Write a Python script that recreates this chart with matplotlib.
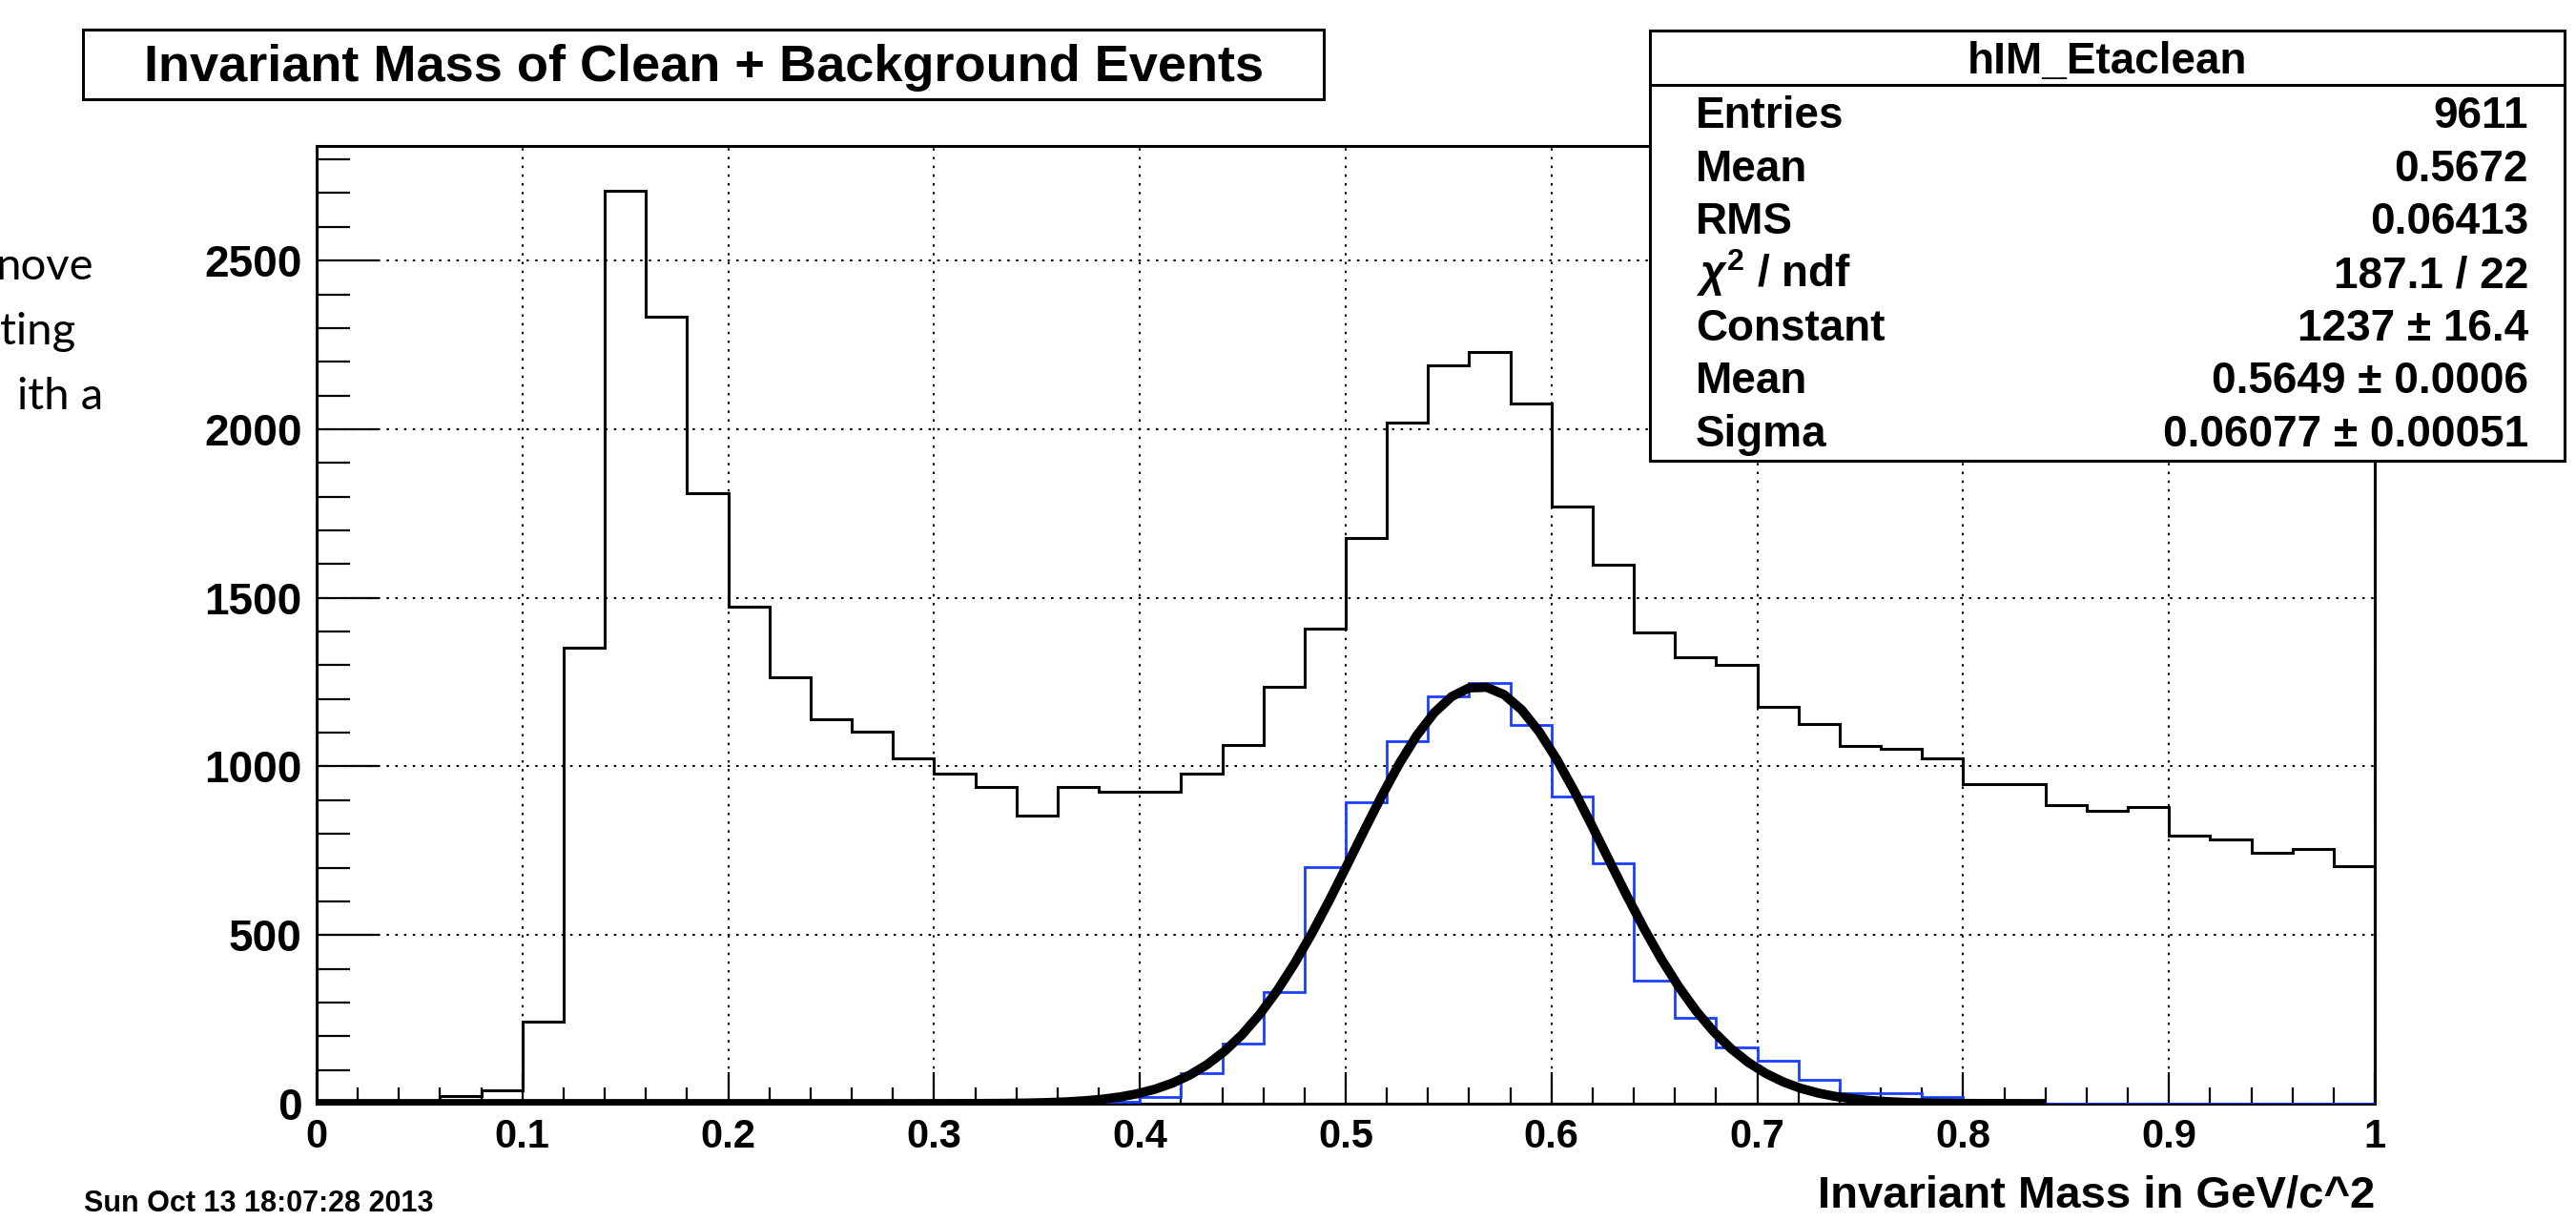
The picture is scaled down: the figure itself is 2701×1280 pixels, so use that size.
import matplotlib
matplotlib.use("Agg")
import matplotlib.pyplot as plt
from matplotlib.patches import Rectangle
import numpy as np

# Canvas size in pixels (dpi 100)
W, H = 2701, 1280

# Histogram binning: 50 bins of 0.02 GeV/c^2 between 0 and 1
bin_edges = np.linspace(0.0, 1.0, 51)

# Clean + background events (black histogram)
counts_all = [0, 0, 3, 22, 40, 242, 1352, 2708, 2334, 1809,
              1473, 1264, 1141, 1103, 1025, 978, 940, 854, 940, 924,
              924, 978, 1065, 1236, 1409, 1676, 2019, 2190, 2228, 2075,
              1771, 1598, 1398, 1323, 1300, 1176, 1127, 1061, 1051, 1023,
              947, 947, 886, 869, 880, 794, 784, 743, 755, 705]

# Clean eta events (blue histogram, hIM_Etaclean)
counts_clean = [0, 0, 0, 0, 0, 0, 0, 0, 0, 0,
                0, 0, 0, 0, 0, 0, 0, 0, 0, 5,
                20, 91, 177, 330, 702, 893, 1075, 1209, 1248, 1123,
                912, 712, 366, 254, 167, 128, 72, 31, 31, 19,
                0, 0, 0, 0, 0, 0, 0, 0, 0, 0]

# Gaussian fit parameters from the stats box
fit_constant = 1237
fit_mean = 0.5649
fit_sigma = 0.06077
fit_range = (0.0, 0.84)

stats_title = "hIM_Etaclean"
stats_labels = ["Entries", "Mean", "RMS", r"$\chi^{2}$ / ndf", "Constant", "Mean", "Sigma"]
stats_values = ["9611", "0.5672", "0.06413", "187.1 / 22", "1237 \u00b1 16.4",
                "0.5649 \u00b1 0.0006", "0.06077 \u00b1 0.00051"]

x_ticks = [0, 0.1, 0.2, 0.3, 0.4, 0.5, 0.6, 0.7, 0.8, 0.9, 1]
x_tick_labels = ["0", "0.1", "0.2", "0.3", "0.4", "0.5", "0.6", "0.7", "0.8", "0.9", "1"]
y_ticks = [0, 500, 1000, 1500, 2000, 2500]

plt.rcParams['font.family'] = ['Liberation Sans', 'DejaVu Sans']
plt.rcParams['font.weight'] = 'bold'
plt.rcParams['mathtext.fontset'] = 'custom'
plt.rcParams['mathtext.rm'] = 'Liberation Sans:bold'
plt.rcParams['mathtext.it'] = 'Liberation Sans:italic'
plt.rcParams['mathtext.bf'] = 'Liberation Sans:bold'


def fx(px):
    return px / W


def fy(py):
    return 1 - py / H


fig = plt.figure(figsize=(W / 100, H / 100), dpi=100)
fig.patch.set_facecolor('white')

# plot frame: x from 332 to 2490 px, y from 153 to 1157 px
ax = fig.add_axes([fx(332), fy(1157), fx(2490) - fx(332), fy(153) - fy(1157)])

ax.stairs(counts_all, bin_edges, color='black', linewidth=2.2, zorder=3)
ax.stairs(counts_clean, bin_edges, color='#1a40ff', linewidth=2.0, zorder=4)

xf = np.linspace(fit_range[0], fit_range[1], 100)
yf = fit_constant * np.exp(-0.5 * ((xf - fit_mean) / fit_sigma) ** 2)
ax.plot(xf, yf, color='black', linewidth=7, zorder=5, solid_capstyle='butt')

ax.set_xlim(0, 1)
ax.set_ylim(0, 2840)
ax.set_xticks(x_ticks)
ax.set_xticklabels(x_tick_labels)
ax.set_xticks(np.arange(0, 1.0001, 0.02), minor=True)
ax.set_yticks(y_ticks)
ax.set_yticklabels([str(v) for v in y_ticks])
ax.set_yticks(np.arange(0, 2801, 100), minor=True)

ax.tick_params(axis='x', which='major', direction='in', length=24, width=1.6,
               labelsize=30, pad=11, top=False)
ax.tick_params(axis='x', which='minor', direction='in', length=12, width=1.6, top=False)
ax.tick_params(axis='y', which='major', direction='in', length=47, width=1.6,
               labelsize=33, pad=11, right=False)
ax.tick_params(axis='y', which='minor', direction='in', length=25, width=1.6, right=False)

ax.grid(True, which='major', color='black', linestyle=(0, (1.2, 3.2)), linewidth=1.5)
ax.set_axisbelow(True)
for sp in ax.spines.values():
    sp.set_linewidth(2.2)
    sp.set_color('black')

# title box
fig.add_artist(Rectangle((fx(87), fy(104)), fx(1388) - fx(87), fy(31) - fy(104),
                         transform=fig.transFigure, facecolor='white',
                         edgecolor='black', linewidth=2.2, zorder=6))
fig.text(fx(738), fy(85), "Invariant Mass of Clean + Background Events",
         ha='center', va='baseline', fontsize=39, fontweight='bold', zorder=7)

# stats box
fig.add_artist(Rectangle((fx(1730), fy(483)), fx(2689) - fx(1730), fy(32) - fy(483),
                         transform=fig.transFigure, facecolor='white',
                         edgecolor='black', linewidth=2.2, zorder=6))
fig.add_artist(plt.Line2D([fx(1730), fx(2689)], [fy(89), fy(89)],
                          transform=fig.transFigure, color='black',
                          linewidth=2.2, zorder=7))
fig.text(fx(2210), fy(77), stats_title, ha='center', va='baseline',
         fontsize=33, fontweight='bold', zorder=8)
row_y = 134
for label, value in zip(stats_labels, stats_values):
    fig.text(fx(1778), fy(row_y), label, ha='left', va='baseline',
             fontsize=33, fontweight='bold', zorder=8)
    fig.text(fx(2651), fy(row_y), value, ha='right', va='baseline',
             fontsize=33, fontweight='bold', zorder=8)
    row_y += 55.7

# axis title and date stamp
fig.text(fx(2490), fy(1266), "Invariant Mass in GeV/c^2", ha='right', va='baseline',
         fontsize=34, fontweight='bold')
fig.text(fx(88), fy(1270), "Sun Oct 13 18:07:28 2013", ha='left', va='baseline',
         fontsize=22, fontweight='bold')

# slide text cut off at the left edge
for txt, x0, yb in [("nove", -4, 293), ("ting", 0, 361), ("ith a", 18, 429)]:
    fig.text(fx(x0), fy(yb), txt, ha='left', va='baseline', fontsize=34,
             fontweight='normal', family='Lato')

fig.savefig("out.png", dpi=100, facecolor='white')
plt.close(fig)
